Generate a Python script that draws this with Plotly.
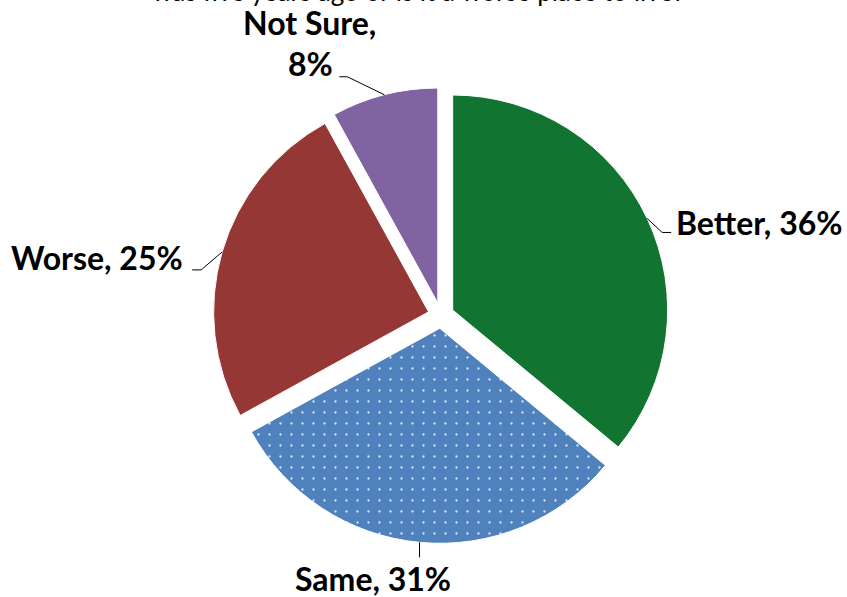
import math
import plotly.graph_objects as go

# Survey answers and their shares (percent)
categories = ["Better", "Same", "Worse", "Not Sure"]
shares = [36, 31, 25, 8]
slice_colors = ["#127431", "#4F81BD", "#953735", "#8064A2"]
title_tail = "was five years ago or is it a worse place to live?"

W, H = 847, 597
PULL = 0.06
DOM_X = [0.2516, 0.7897]
DOM_Y = [0.0898, 0.8533]
LABEL_FONT = dict(family="Lato, Carlito, Calibri, sans-serif", size=32, color="black")

fig = go.Figure(
    go.Pie(
        labels=categories,
        values=shares,
        sort=False,
        direction="clockwise",
        rotation=0,
        pull=[PULL] * len(shares),
        textinfo="none",
        hoverinfo="label+percent",
        showlegend=False,
        domain=dict(x=DOM_X, y=DOM_Y),
        marker=dict(
            colors=slice_colors,
            line=dict(color="white", width=1),
            pattern=dict(
                shape=["", ".", "", ""],
                fillmode="overlay",
                fgcolor="#DCE6F2",
                fgopacity=1,
                size=11,
                solidity=0.035,
            ),
        ),
    )
)

# Pie geometry in pixels, following plotly's own sizing rule
cx = W * (DOM_X[0] + DOM_X[1]) / 2
cy = H * (1 - (DOM_Y[0] + DOM_Y[1]) / 2)
r = min(W * (DOM_X[1] - DOM_X[0]), H * (DOM_Y[1] - DOM_Y[0])) / (2 * (1 + PULL))


def to_paper(x, y):
    return x / W, 1 - y / H


# Leader line shapes and label offsets (pixels) per slice
leader_style = {
    "Better": dict(elbow=(15, 14), tail=9, lines=[(3, -10)], anchor="left"),
    "Same": dict(elbow=(0, 15), tail=0, lines=[(-47, 21)], anchor="center"),
    "Worse": dict(elbow=(-21, 18), tail=-9, lines=[(-7, -12)], anchor="right"),
    "Not Sure": dict(elbow=(-37, -18), tail=-8, lines=[(-30, -54), (-29, -13)], anchor="center"),
}

total = sum(shares)
start = 0.0
shapes = []
annotations = []
for name, val in zip(categories, shares):
    frac = val / total
    mid = (start + frac / 2) * 2 * math.pi
    start += frac
    ux, uy = math.sin(mid), -math.cos(mid)
    ex, ey = cx + r * (1 + PULL) * ux, cy + r * (1 + PULL) * uy
    st = leader_style[name]
    bx, by = ex + st["elbow"][0], ey + st["elbow"][1]
    tx, ty = bx + st["tail"], by
    p = [to_paper(*pt) for pt in [(ex, ey), (bx, by), (tx, ty)]]
    shapes.append(
        dict(
            type="path",
            xref="paper",
            yref="paper",
            path=f"M {p[0][0]},{p[0][1]} L {p[1][0]},{p[1][1]} L {p[2][0]},{p[2][1]}",
            line=dict(color="black", width=1),
        )
    )
    pct = round(frac * 100)
    if len(st["lines"]) == 1:
        texts = [f"{name}, {pct}%"]
    else:
        texts = [f"{name},", f"{pct}%"]
    for txt, (ox, oy) in zip(texts, st["lines"]):
        ax, ay = to_paper(tx + ox, ty + oy)
        annotations.append(
            dict(
                text=f"<b>{txt}</b>",
                x=ax,
                y=ay,
                xref="paper",
                yref="paper",
                xanchor=st["anchor"],
                yanchor="middle",
                showarrow=False,
                font=LABEL_FONT,
            )
        )

# Chart title, last line only sits inside the page
annotations.append(
    dict(
        text=title_tail,
        x=0.494,
        y=1,
        xref="paper",
        yref="paper",
        xanchor="center",
        yanchor="bottom",
        yshift=-9,
        showarrow=False,
        font=dict(family="Lato, Carlito, Calibri, sans-serif", size=26, color="black"),
    )
)

fig.update_layout(
    width=W,
    height=H,
    margin=dict(l=0, r=0, t=0, b=0),
    paper_bgcolor="white",
    plot_bgcolor="white",
    shapes=shapes,
    annotations=annotations,
)

fig.write_html("out.html")
